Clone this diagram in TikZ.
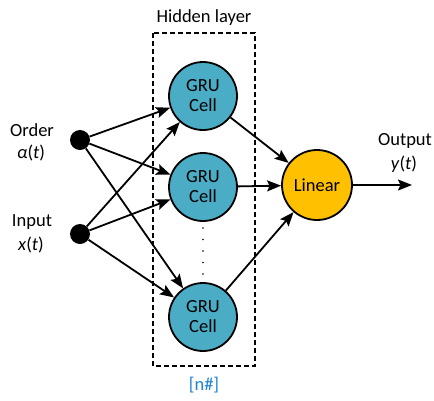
\documentclass[tikz,border=0pt]{standalone}
\usepackage{fontspec}
\setmainfont{Carlito}
\usetikzlibrary{arrows.meta}
\tikzset{>={Stealth[length=14pt,width=11pt,inset=2.5pt]}}
\definecolor{grublue}{RGB}{75, 172, 198}
\definecolor{linyellow}{RGB}{255, 192, 0}
\definecolor{tagblue}{RGB}{30, 130, 210}

\begin{document}
\begin{tikzpicture}[
    x = 1pt, y = -1pt,
    font = \fontsize{18.5}{20}\selectfont,
    d0/.style = {line width = 1.8pt},
    gru/.style = {d0, draw, circle, fill = grublue, minimum size = 68pt, inner sep = 0pt, align = center},
    lin/.style = {d0, draw, circle, fill = linyellow, minimum size = 70pt, inner sep = 0pt},
    dot0/.style = {circle, fill = black, minimum size = 20pt, inner sep = 0pt},
    d1/.style = {d0, ->},
]
\useasboundingbox (0,0) rectangle (434,400);

\draw[d0, dashed, dash pattern = on 5pt off 3pt] (153,33) rectangle (255,366);
\node (hid) at (204,18) {Hidden layer};
\node[text = tagblue] (tag) at (204,385) {[n\#]};

\node[dot0] (order) at (80,140) {};
\node[dot0] (input) at (80,234) {};
\node (ordertxt) at (32,130) {Order};
\node (ordersym) at (31,153) {\textit{α}(\textit{t})};
\node (inputtxt) at (32,222) {Input};
\node (inputsym) at (31,245) {\textit{x}(\textit{t})};

\node[gru] (g1) at (203,96) {GRU\\Cell};
\node[gru] (g2) at (203,187) {GRU\\Cell};
\node[gru] (g3) at (203,317) {GRU\\Cell};
\node[lin] (lin) at (317,185) {Linear};

\coordinate (out) at (412,185);
\node[inner sep = 1pt] (outtxt) at (405,141) {Output};
\node (outsym) at (404,164) {\textit{y}(\textit{t})};

\draw[d0, line cap = round, dash pattern = on 0pt off 11.5pt] ([yshift = -6pt]g2.south) -- ([yshift = 3pt]g3.north);

\foreach \src in {order, input}
  \foreach \dst in {g1, g2, g3}
    \draw[d1] (\src) -- (\dst);

\foreach \g in {g1, g2, g3}
  \draw[d1] (\g) -- (lin);
\draw[d1] (lin) -- (out);
\end{tikzpicture}
\end{document}
